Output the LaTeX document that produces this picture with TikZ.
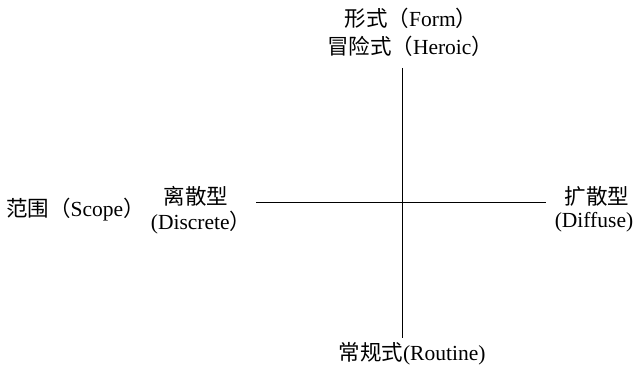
\documentclass[tikz,border=0pt]{standalone}
\usepackage{fontspec}
\setmainfont{Liberation Serif}
\newfontfamily\cjk{Noto Sans CJK SC}
\begin{document}
\begin{tikzpicture}[x=1pt,y=1pt,
  lbl/.style={inner sep=0pt,font=\fontsize{21.5}{24}\selectfont,align=center},
  axis/.style={line width=1pt,black}]
\useasboundingbox (0,0) rectangle (635,366);
\coordinate (L) at (256,163);
\coordinate (R) at (546,163);
\coordinate (T) at (402,298);
\coordinate (B) at (402,28);
\draw[axis] (L) -- (R);
\draw[axis] (T) -- (B);
\node[lbl] (top1) at (411,348) {{\cjk 形式（}Form{\cjk ）}};
\node[lbl] (top2) at (410,320) {{\cjk 冒险式（}Heroic{\cjk ）}};
\node[lbl] (scope) at (75.5,156) {{\cjk 范围（}Scope{\cjk ）}};
\node[lbl] (disc1) at (196,170) {{\cjk 离散型}};
\node[lbl] (disc2) at (201,143) {(Discrete{\cjk ）}};
\node[lbl] (diff1) at (597,170) {{\cjk 扩散型}};
\node[lbl] (diff2) at (594,144) {(Diffuse)};
\node[lbl] (rout) at (412,12) {{\cjk 常规式}(Routine)};
\end{tikzpicture}
\end{document}
